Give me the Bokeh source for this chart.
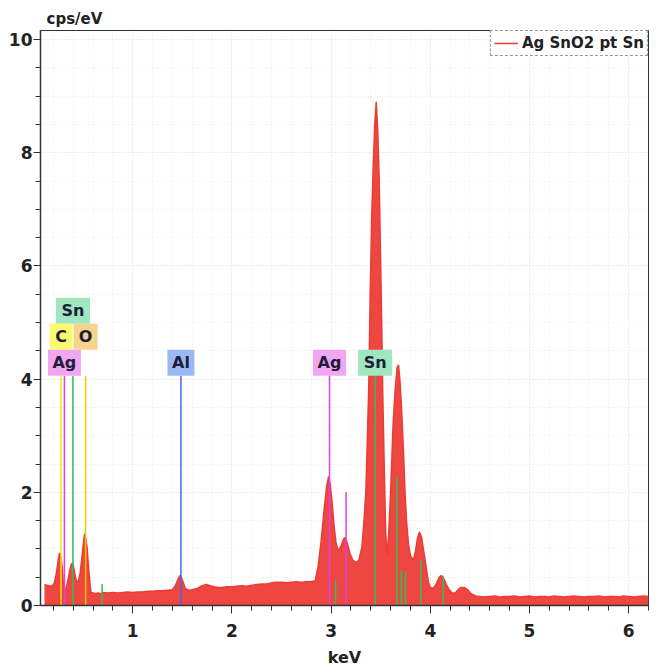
from bokeh.plotting import figure
from bokeh.models import Range1d, SingleIntervalTicker, ColumnDataSource
from bokeh.embed import file_html
from bokeh.resources import INLINE
from bokeh.core.properties import value

# ---- spectrum (keV, cps/eV) ----
energy = [0.11, 0.13, 0.15, 0.17, 0.19, 0.21, 0.23, 0.25, 0.262, 0.275, 0.29, 0.30, 0.31, 0.32,
          0.335, 0.35, 0.365, 0.38, 0.39, 0.40, 0.41, 0.425, 0.44, 0.455, 0.47, 0.485, 0.50,
          0.515, 0.525, 0.54, 0.55, 0.56, 0.57, 0.58, 0.60, 0.62, 0.65, 0.68, 0.70, 0.75,
          0.80, 0.85, 0.90, 0.95, 1.00, 1.05, 1.10, 1.15, 1.20, 1.25, 1.30, 1.35, 1.40,
          1.43, 1.46, 1.475, 1.49, 1.51, 1.53, 1.56, 1.60, 1.65, 1.70, 1.74, 1.78, 1.82,
          1.86, 1.90, 1.95, 2.00, 2.05, 2.10, 2.15, 2.20, 2.25, 2.30, 2.35, 2.40, 2.45,
          2.50, 2.55, 2.60, 2.65, 2.70, 2.75, 2.80, 2.84, 2.87, 2.90, 2.93, 2.955, 2.975,
          2.99, 3.01, 3.03, 3.05, 3.07, 3.10, 3.125, 3.14, 3.16, 3.19, 3.22, 3.25, 3.28,
          3.31, 3.33, 3.35, 3.365, 3.38, 3.395, 3.41, 3.425, 3.44, 3.455, 3.47, 3.485,
          3.50, 3.51, 3.52, 3.535, 3.55, 3.565, 3.58, 3.60, 3.625, 3.645, 3.665, 3.68,
          3.695, 3.71, 3.73, 3.745, 3.76, 3.78, 3.80, 3.83, 3.85, 3.87, 3.89, 3.91, 3.93,
          3.955, 3.98, 4.00, 4.03, 4.06, 4.09, 4.11, 4.13, 4.16, 4.19, 4.22, 4.25, 4.28,
          4.31, 4.34, 4.37, 4.40, 4.43, 4.46, 4.50, 4.55, 4.60, 4.65, 4.70, 4.75, 4.80,
          4.85, 4.90, 4.95, 5.00, 5.05, 5.10, 5.15, 5.20, 5.25, 5.30, 5.35, 5.40, 5.45,
          5.50, 5.55, 5.60, 5.65, 5.70, 5.75, 5.80, 5.85, 5.90, 5.95, 6.00, 6.05, 6.10,
          6.15, 6.20]
cps = [0.37, 0.36, 0.35, 0.34, 0.35, 0.40, 0.57, 0.82, 0.93, 0.86, 0.66, 0.40, 0.24, 0.27,
       0.36, 0.47, 0.63, 0.72, 0.75, 0.71, 0.62, 0.48, 0.40, 0.45, 0.58, 0.80, 1.06,
       1.27, 1.20, 1.02, 0.78, 0.57, 0.36, 0.23, 0.22, 0.21, 0.22, 0.21, 0.23, 0.22,
       0.23, 0.22, 0.23, 0.24, 0.23, 0.24, 0.24, 0.25, 0.25, 0.26, 0.26, 0.27, 0.28,
       0.35, 0.48, 0.53, 0.50, 0.40, 0.30, 0.27, 0.28, 0.30, 0.35, 0.37, 0.35, 0.33,
       0.32, 0.32, 0.33, 0.33, 0.34, 0.35, 0.34, 0.36, 0.37, 0.38, 0.38, 0.40, 0.41,
       0.41, 0.40, 0.41, 0.42, 0.41, 0.42, 0.42, 0.44, 0.70, 1.15, 1.70, 2.10, 2.28,
       2.15, 1.82, 1.40, 1.10, 0.97, 1.05, 1.17, 1.20, 1.12, 0.92, 0.80, 0.76, 0.80,
       1.03, 1.45, 2.00, 2.90, 3.90, 5.60, 6.90, 7.80, 8.50, 8.90, 8.40, 7.50,
       6.00, 5.00, 3.80, 2.50, 1.30, 0.88, 1.25, 2.00, 3.20, 3.80, 4.20, 4.25,
       3.95, 3.50, 2.70, 2.00, 1.50, 1.08, 0.88, 0.80, 0.95, 1.18, 1.30, 1.22, 1.00,
       0.72, 0.42, 0.32, 0.30, 0.38, 0.50, 0.53, 0.50, 0.38, 0.28, 0.22, 0.22, 0.28,
       0.32, 0.32, 0.29, 0.23, 0.19, 0.17, 0.16, 0.15, 0.16, 0.17, 0.15, 0.16, 0.16,
       0.17, 0.15, 0.16, 0.17, 0.15, 0.16, 0.16, 0.15, 0.17, 0.16, 0.15, 0.16, 0.17,
       0.16, 0.15, 0.16, 0.16, 0.17, 0.15, 0.16, 0.16, 0.15, 0.17, 0.16, 0.15, 0.16,
       0.17, 0.16]

# ---- element marker lines ----
line_energy = [0.277, 0.311, 0.397, 0.525, 0.691, 1.486, 2.984, 3.045, 3.151, 3.444,
               3.663, 3.708, 3.750, 3.905, 4.131]
line_height = [4.06, 4.06, 4.06, 4.06, 0.38, 4.06, 4.06, 0.45, 2.00, 4.06,
               2.26, 0.62, 0.60, 0.80, 0.50]
line_element = ["C", "Ag", "Sn", "O", "Sn", "Al", "Ag", "Sn", "Ag", "Sn",
                "Sn", "Sn", "Sn", "Sn", "Sn"]

# ---- element labels ----
label_text = ["Sn", "C", "O", "Ag", "Al", "Ag", "Sn"]
label_energy = [0.397, 0.277, 0.525, 0.311, 1.486, 2.984, 3.444]
label_row = [3, 2, 2, 1, 1, 1, 1]

series_name = "Ag SnO2 pt Sn"
y_title = "cps/eV"
x_title = "keV"

# ---- styling ----
FONT = "DejaVu Sans"
line_colors = {"C": "#f2e600", "O": "#f5c400", "Ag": "#e040e0", "Sn": "#2fbf5a", "Al": "#4a66e6"}
box_colors = {"C": "#fafa70", "O": "#f7d48c", "Ag": "#f0a6f0", "Sn": "#a0e6be", "Al": "#9cb8f2"}
box_widths = {"C": 23, "O": 24, "Ag": 33, "Sn": 34, "Al": 27}

p = figure(width=666, height=671, x_range=Range1d(0.07, 6.2), y_range=Range1d(0, 10.16),
           output_backend="svg", toolbar_location=None,
           min_border_left=40, min_border_right=18, min_border_top=30, min_border_bottom=66)
p.background_fill_color = "white"
p.outline_line_color = "#333333"
p.outline_line_width = 1

p.title.text = y_title
p.title.align = "left"
p.title.offset = 6
p.title.standoff = 5
p.title.text_font = FONT
p.title.text_font_size = "15px"
p.title.text_font_style = "bold"
p.title.text_color = "#222222"

src = ColumnDataSource(dict(e=energy, c=cps))
p.varea(x="e", y1=0, y2="c", source=src, fill_color="#ee4640")
p.line(x="e", y="c", source=src, line_color="#ec3c36", line_width=1.5, legend_label=series_name)

lsrc = ColumnDataSource(dict(e=line_energy, h=line_height, z=[0] * len(line_energy),
                             col=[line_colors[el] for el in line_element]))
p.segment(x0="e", y0="z", x1="e", y1="h", line_color="col", line_width=1.5, source=lsrc)

box_h = 0.46
base = 4.06
bsrc = ColumnDataSource(dict(
    x=label_energy,
    y=[base + box_h / 2 + (r - 1) * box_h for r in label_row],
    w=[box_widths[t] for t in label_text],
    col=[box_colors[t] for t in label_text],
    t=label_text))
p.rect(x="x", y="y", width="w", height=box_h, width_units="screen", fill_color="col",
       line_color=None, source=bsrc)
p.text(x="x", y="y", text="t", text_align="center", text_baseline="middle",
       text_font=value(FONT), text_font_size="16px", text_font_style="bold",
       text_color="#1e1e3a", source=bsrc)

# axes
p.xaxis.ticker = SingleIntervalTicker(interval=1, num_minor_ticks=5)
p.yaxis.ticker = SingleIntervalTicker(interval=2, num_minor_ticks=4)
for ax in (p.xaxis[0], p.yaxis[0]):
    ax.axis_line_color = "#333333"
    ax.axis_line_width = 1.5
    ax.major_tick_line_color = "#333333"
    ax.minor_tick_line_color = "#333333"
    ax.major_tick_in = 0
    ax.minor_tick_in = 0
    ax.major_label_text_font = FONT
    ax.major_label_text_font_size = "17px"
    ax.major_label_text_font_style = "bold"
    ax.major_label_text_color = "#222222"
p.xaxis.major_tick_out = 8
p.xaxis.minor_tick_out = 5
p.yaxis.major_tick_out = 7
p.yaxis.minor_tick_out = 5
p.xaxis.major_label_standoff = 10
p.yaxis.major_label_standoff = 1
p.xaxis.axis_label = x_title
p.xaxis.axis_label_text_font = FONT
p.xaxis.axis_label_text_font_size = "16px"
p.xaxis.axis_label_text_font_style = "bold"
p.xaxis.axis_label_text_color = "#222222"
p.xaxis.axis_label_standoff = 8

p.xgrid.grid_line_color = "#e6e6e6"
p.xgrid.grid_line_dash = "1 2"
p.xgrid.minor_grid_line_color = "#ececec"
p.xgrid.minor_grid_line_dash = "1 2"
p.ygrid.grid_line_color = "#e6e6e6"
p.ygrid.grid_line_dash = "1 2"
p.ygrid.minor_grid_line_color = "#ececec"
p.ygrid.minor_grid_line_dash = "1 2"

lg = p.legend[0]
lg.location = "top_right"
lg.margin = 0
lg.padding = 3
lg.spacing = 0
lg.glyph_width = 24
lg.glyph_height = 18
lg.label_standoff = 4
lg.label_text_font = FONT
lg.label_text_font_size = "15px"
lg.label_text_font_style = "bold"
lg.label_text_color = "#222222"
lg.border_line_color = "#333333"
lg.border_line_dash = "2 1"
lg.background_fill_alpha = 1

open("out.html", "w").write(file_html(p, INLINE))
